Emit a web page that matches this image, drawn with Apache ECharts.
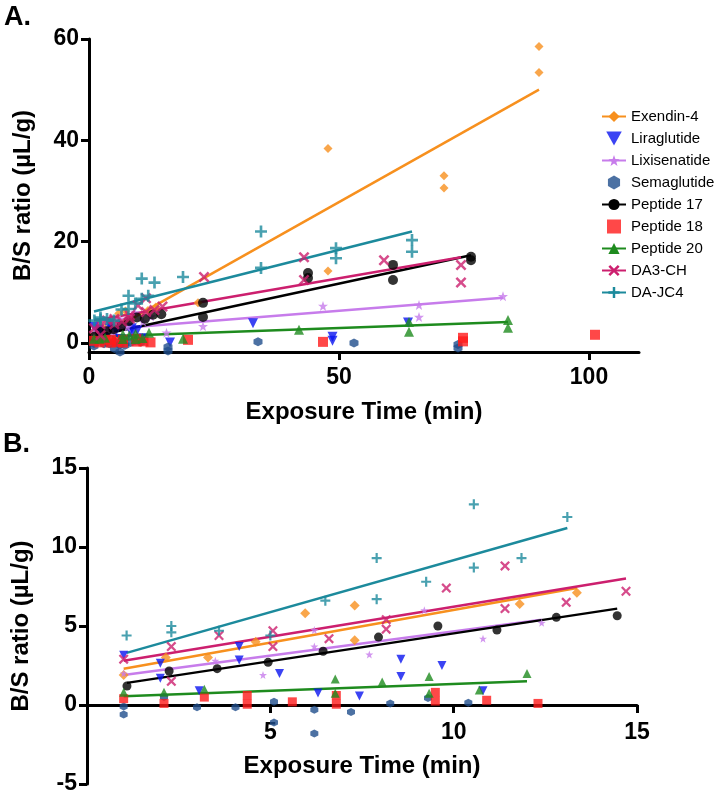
<!DOCTYPE html>
<html><head><meta charset="utf-8">
<script src="https://cdn.jsdelivr.net/npm/echarts@6/dist/echarts.min.js"></script>
<style>html,body{margin:0;padding:0;background:#fff}#c{width:723px;height:795px}</style>
</head><body><div id="c"></div>
<script>
// ---- data ----
const seriesNames = ['Exendin-4','Liraglutide','Lixisenatide','Semaglutide','Peptide 17','Peptide 18','Peptide 20','DA3-CH','DA-JC4'];
const exendin4 = [[1.0,1.9],[2.15,3.0],[3.3,3.0],[4.6,4.0],[5.95,5.8],[7.3,6.3],[7.3,4.1],[11.8,6.4],[13.36,7.1],
  [21.8,7.9],[47.8,38.4],[47.8,14.2],[71,33.0],[71,30.6],[90,58.5],[90,53.4]];
const liraglutide = [[1.0,3.15],[2.0,2.65],[2.0,1.7],[3.06,0.9],[4.15,3.7],[4.15,2.85],[5.25,2.0],[6.3,0.76],[7.43,0.57],
  [8.56,2.9],[8.56,1.8],[9.68,2.5],[10.8,0.9],[16.2,0.1],[32.8,3.9],[48.7,1.2],[48.7,0.4],[63.8,4.0]];
const lixisenatide = [[1.0,2.0],[3.5,2.8],[4.8,1.9],[6.2,4.75],[6.2,3.7],[7.7,3.2],[9.2,6.0],[10.8,4.2],[12.4,5.2],
  [15.5,2.0],[22.8,3.3],[46.8,7.3],[66,7.5],[66,5.1],[82.8,9.2]];
const semaglutide = [[1.0,-0.1],[1.0,-0.6],[2.1,0.5],[3.0,-0.15],[4.05,-0.15],[5.1,0.2],[5.1,-1.1],[6.2,-0.3],[6.2,-1.8],
  [7.2,-0.45],[8.27,0.1],[9.3,0.45],[10.4,0.15],[15.8,-0.8],[15.8,-1.6],[33.8,0.2],[53,0.0],[73.8,-0.3],[73.8,-1.0]];
const peptide17 = [[1.09,1.2],[2.24,2.15],[3.55,2.3],[4.94,2.7],[6.44,3.4],[7.95,4.3],[9.57,5.0],[11.18,4.75],[12.8,5.55],[14.46,5.65],
  [22.8,7.9],[22.8,5.1],[43.8,13.8],[43.8,12.8],[60.8,15.4],[60.8,12.4],[76.4,17.0],[76.4,16.3]];
const peptide18 = [[1.0,0.4],[2.1,0.1],[3.2,0.5],[4.37,0.6],[4.37,0.05],[5.6,0.2],[6.8,0.6],[6.8,0.05],[9.5,0.8],[9.5,0.25],
  [10.9,0.3],[12.3,0.1],[19.8,0.6],[46.8,0.2],[74.8,1.0],[74.8,0.3],[101.2,1.6]];
const peptide20 = [[1.0,0.8],[2.1,0.8],[3.2,1.0],[6.77,1.65],[6.77,0.75],[8.05,1.45],[9.33,1.8],[9.33,0.75],[10.7,0.95],[12.0,2.0],
  [18.8,0.8],[42,2.6],[64,4.1],[64,2.2],[83.8,4.5],[83.8,3.0]];
const da3ch = [[1.0,2.9],[2.3,3.7],[2.3,1.5],[3.6,4.4],[5.07,4.7],[5.07,3.7],[6.6,4.2],[8.16,5.4],[8.16,4.8],[9.8,7.4],
  [11.4,8.8],[11.4,6.1],[13.07,6.5],[14.7,7.2],[23,13.0],[43,16.9],[43,12.4],[59,16.3],[74.4,15.4],[74.4,11.9]];
const dajc4 = [[1.08,4.4],[2.3,5.0],[2.3,4.6],[3.6,4.7],[5.0,4.4],[6.5,6.6],[7.9,6.7],[7.9,9.3],[9.25,7.8],[10.55,12.7],
  [10.55,8.7],[11.85,9.3],[13.1,11.9],[18.8,13.0],[34.4,22.0],[34.4,14.8],[49.4,18.7],[49.4,16.7],[64.6,20.3],[64.6,18.0]];

// fitted line end points, panel A (all times) and panel B (0-15 min)
const fitA = {
  'Exendin-4': [[1,0.6],[90,50]],
  'Lixisenatide': [[1,2.5],[82.8,8.9]],
  'Peptide 17': [[1,1.3],[76.4,17.3]],
  'Peptide 20': [[1,1.2],[83.8,4.1]],
  'DA3-CH': [[1,4.4],[74.4,16.9]],
  'DA-JC4': [[1,6.2],[64.6,22.0]]
};
const fitB = {
  'Exendin-4': [[1.0,2.3],[13.36,7.4]],
  'Lixisenatide': [[1.0,1.9],[12.4,5.4]],
  'Peptide 17': [[1.09,1.4],[14.46,6.1]],
  'Peptide 20': [[1.0,0.55],[12.0,1.5]],
  'DA3-CH': [[1.0,2.8],[14.7,8.0]],
  'DA-JC4': [[1.08,3.3],[13.1,11.2]]
};
const xTicksA = [0,50,100];
const yTicksA = [0,20,40,60];
const xTicksB = [5,10,15];
const yTicksB = [-5,0,5,10,15];

// ---- styling ----
const FONT = 'Liberation Sans, Arial, Helvetica, sans-serif';
const pointData = [exendin4, liraglutide, lixisenatide, semaglutide, peptide17, peptide18, peptide20, da3ch, dajc4];
const colors = ['#F7901E','#0A14F0','#C77CEB','#1F4E8C','#000000','#FF1A1A','#1E8B1E','#CC1F6E','#1C8A9C'];
const STAR = 'path://M5,0 L6.176,3.382 L9.755,3.455 L6.902,5.618 L7.939,9.045 L5,7 L2.061,9.045 L3.098,5.618 L0.245,3.455 L3.824,3.382 Z';
const symbols = [
  'path://M5,0 L10,5 L5,10 L0,5 Z',
  'path://M0,0 L10,0 L5,9 Z',
  STAR,
  'path://M5,0 L9.33,2.5 L9.33,7.5 L5,10 L0.67,7.5 L0.67,2.5 Z',
  'circle',
  'path://M0,0 H10 V10 H0 Z',
  'path://M5,0 L10,9 L0,9 Z',
  'path://M0,1.6 L1.6,0 L5,3.4 L8.4,0 L10,1.6 L6.6,5 L10,8.4 L8.4,10 L5,6.6 L1.6,10 L0,8.4 L3.4,5 Z',
  'path://M3.9,0 H6.1 V3.9 H10 V6.1 H6.1 V10 H3.9 V6.1 H0 V3.9 H3.9 Z'
];
const sizesA = [9,10,10,9,10,10,10,11,12];
const sizesB = [10,9,8,8,9,9,9,10,10];

const series = [];
seriesNames.forEach((n,i)=>{
  if (fitA[n]) series.push({type:'line', name:n, xAxisIndex:0, yAxisIndex:0, data:fitA[n], showSymbol:false,
    symbol:symbols[i], color:colors[i], lineStyle:{color:colors[i], width:2.5}, z:2, silent:true});
});
seriesNames.forEach((n,i)=>{
  series.push({type:'scatter', name:n, xAxisIndex:0, yAxisIndex:0, data:pointData[i], symbol:symbols[i],
    symbolSize:sizesA[i], itemStyle:{color:colors[i]}, clip:true, z:3});
});
seriesNames.forEach((n,i)=>{
  if (fitB[n]) series.push({type:'line', name:n, xAxisIndex:1, yAxisIndex:1, data:fitB[n], showSymbol:false,
    symbol:symbols[i], color:colors[i], lineStyle:{color:colors[i], width:2.5}, z:2, silent:true});
});
seriesNames.forEach((n,i)=>{
  series.push({type:'scatter', name:n, xAxisIndex:1, yAxisIndex:1, data:pointData[i], symbol:symbols[i],
    symbolSize:sizesB[i], itemStyle:{color:colors[i]}, clip:true, z:3});
});

const axLine = {lineStyle:{color:'#000', width:3}};
const tickStyle = {length:8, lineStyle:{color:'#000', width:3}};
const lblStyle = {color:'#000', fontFamily:FONT, fontWeight:'bold', fontSize:23};
const nameStyle = {color:'#000', fontFamily:FONT, fontWeight:'bold', fontSize:24};

const option = {
  animation:false,
  backgroundColor:'#fff',
  title:[
    {text:'A.', left:4, top:4, padding:0, textStyle:{fontFamily:FONT, fontWeight:'bold', fontSize:27, color:'#000'}},
    {text:'B.', left:3, top:431, padding:0, textStyle:{fontFamily:FONT, fontWeight:'bold', fontSize:27, color:'#000'}}
  ],
  legend:{
    orient:'vertical', left:596, top:104, itemWidth:24, itemHeight:14, itemGap:7,
    selectedMode:false, data:seriesNames,
    textStyle:{fontFamily:FONT, fontSize:15, color:'#000', lineHeight:14}
  },
  grid:[
    {left:89, right:84, top:39, bottom:443, containLabel:false, outerBoundsMode:'none'},
    {left:87, right:86, top:468, bottom:11, containLabel:false, outerBoundsMode:'none'}
  ],
  xAxis:[
    {type:'value', gridIndex:0, min:0, max:110, axisLine:Object.assign({onZero:false}, axLine),
     axisTick:Object.assign({customValues:xTicksA}, tickStyle),
     axisLabel:Object.assign({customValues:xTicksA, margin:14}, lblStyle), splitLine:{show:false},
     name:'Exposure Time (min)', nameLocation:'middle', nameGap:48, nameTextStyle:nameStyle},
    {type:'value', gridIndex:1, min:0, max:15, offset:-79, axisLine:Object.assign({onZero:false}, axLine),
     axisTick:Object.assign({customValues:xTicksB}, tickStyle),
     axisLabel:Object.assign({customValues:xTicksB, margin:16}, lblStyle), splitLine:{show:false},
     name:'Exposure Time (min)', nameLocation:'middle', nameGap:49, nameTextStyle:nameStyle}
  ],
  yAxis:[
    {type:'value', gridIndex:0, min:-1.8, max:60, axisLine:Object.assign({onZero:false}, axLine),
     axisTick:Object.assign({customValues:yTicksA}, tickStyle),
     axisLabel:Object.assign({customValues:yTicksA, margin:10}, lblStyle), splitLine:{show:false},
     name:'B/S ratio (µL/g)', nameLocation:'middle', nameRotate:90, nameGap:54, nameTextStyle:nameStyle},
    {type:'value', gridIndex:1, min:-5, max:15, interval:5, axisLine:Object.assign({onZero:false}, axLine),
     axisTick:Object.assign({customValues:yTicksB}, tickStyle),
     axisLabel:Object.assign({customValues:yTicksB, margin:10}, lblStyle), splitLine:{show:false},
     name:'B/S ratio (µL/g)', nameLocation:'middle', nameRotate:90, nameGap:54, nameTextStyle:nameStyle}
  ],
  series: series
};
const chart = echarts.init(document.getElementById('c'), null, {renderer:'canvas'});
chart.setOption(option);
</script></body></html>
